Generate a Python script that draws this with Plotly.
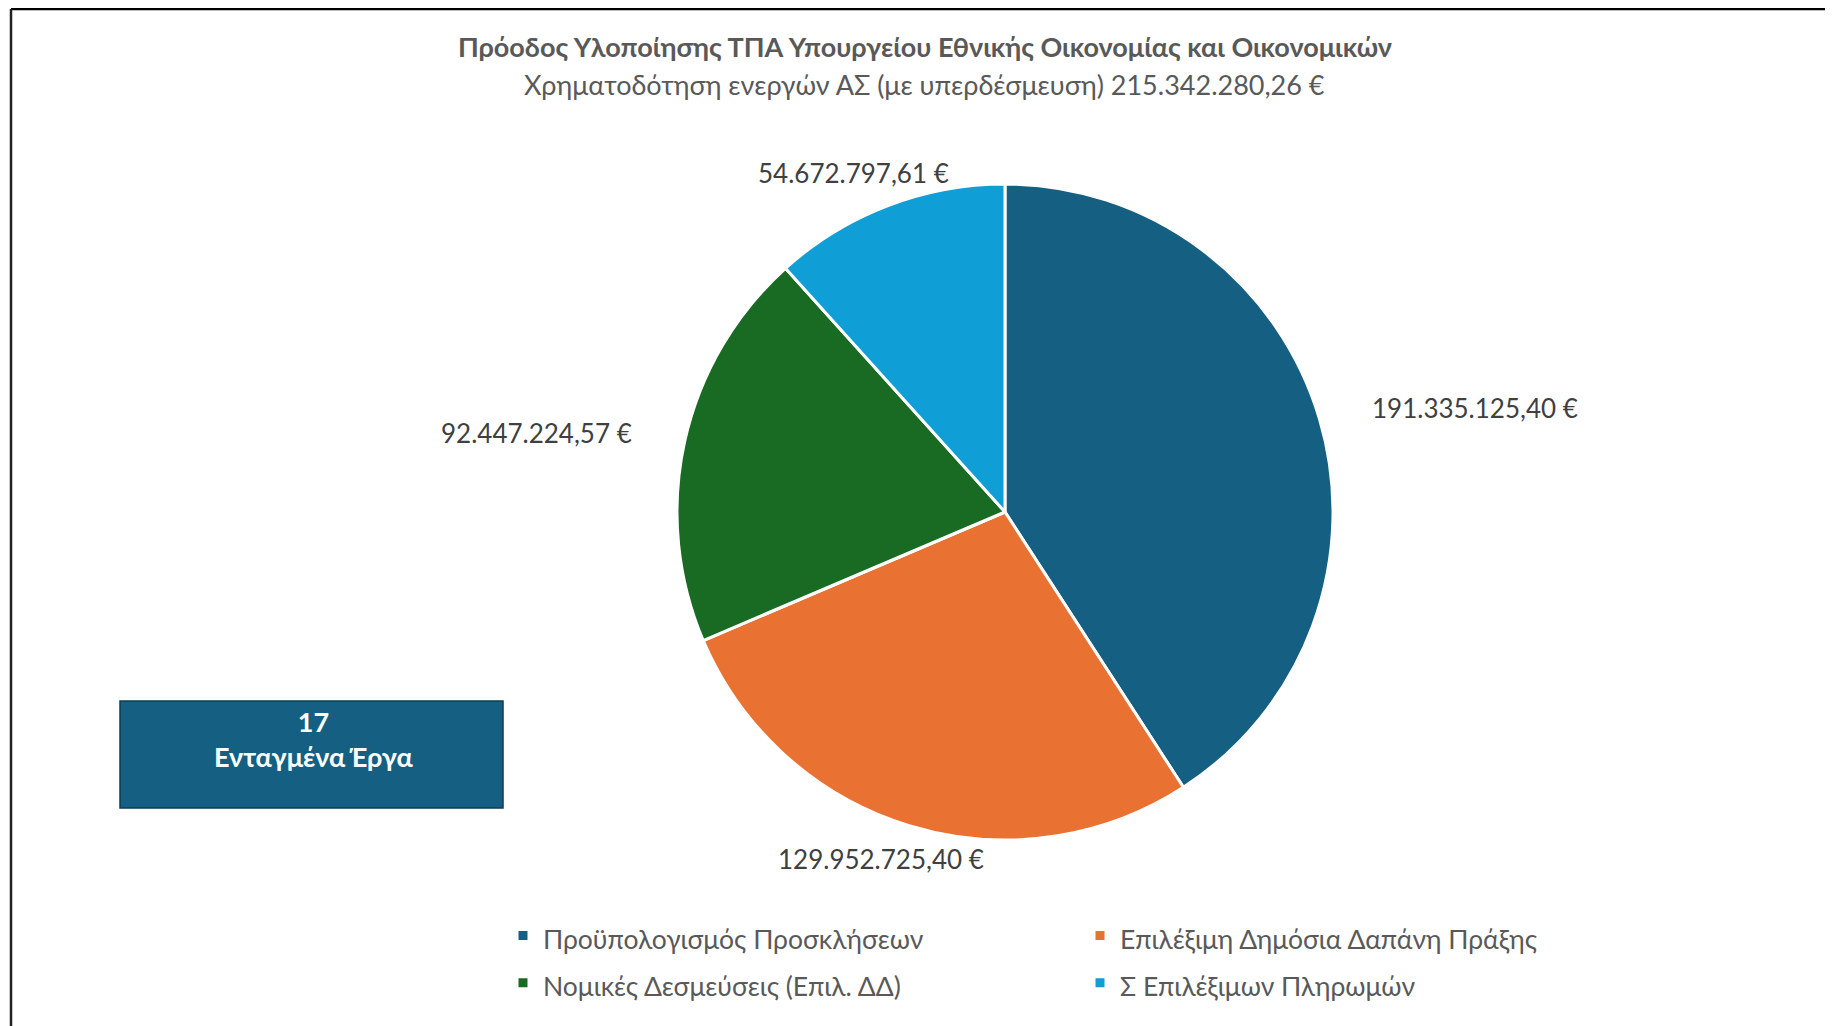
import math
import plotly.graph_objects as go

labels = ["Προϋπολογισμός Προσκλήσεων", "Επιλέξιμη Δημόσια Δαπάνη Πράξης",
          "Νομικές Δεσμεύσεις (Επιλ. ΔΔ)", "Σ Επιλέξιμων Πληρωμών"]
values = [191335125.40, 129952725.40, 92447224.57, 54672797.61]
colors = ["#156082", "#E97132", "#196B24", "#0F9ED5"]
title_main = "Πρόοδος Υλοποίησης ΤΠΑ Υπουργείου Εθνικής Οικονομίας και Οικονομικών"
title_sub = "Χρηματοδότηση ενεργών ΑΣ (με υπερδέσμευση) 215.342.280,26 €"
box_count = "17"
box_label = "Ενταγμένα Έργα"

FONT = "Lato, 'Open Sans', sans-serif"
W, H = 1833, 1026
MR = 400                 # right margin (keeps legend at two columns)
PW = W - MR              # plot-area width in px
CX, CY, R = 997, 504, 328  # pie centre / radius in px


def px(x):
    return x / PW


def py(y):
    return 1 - y / H


def fmt_eur(v):
    s = f"{v:,.2f}".replace(",", "X").replace(".", ",").replace("X", ".")
    return s + " €"


legend_labels = [f"<span style='font-size:26.5px'>{t}</span>" for t in labels]

fig = go.Figure(go.Pie(
    labels=legend_labels, values=values, sort=False, direction="clockwise", rotation=0,
    marker=dict(colors=colors, line=dict(color="white", width=3)),
    textinfo="none",
    domain=dict(x=[px(CX - R), px(CX + R)], y=[py(CY + R), py(CY - R)]),
    hoverinfo="value+percent",
))

fig.update_layout(
    width=W, height=H, separators=",.",
    margin=dict(l=0, r=MR, t=0, b=0, autoexpand=False),
    paper_bgcolor="white", plot_bgcolor="white",
    font=dict(family=FONT, color="#404040"),
    legend=dict(orientation="h", x=px(1072), xanchor="center", y=py(899), yanchor="top",
                entrywidth=532, entrywidthmode="pixels", traceorder="normal",
                font=dict(family=FONT, size=34, color="#595959"),
                itemwidth=30),
    showlegend=True,
)

# data labels placed outside each slice, at its mid-angle (derived from the values)
total = sum(values)
cum = 0.0
r_vis = R - 2
for v in values:
    mid = (cum + v / 2) / total * 2 * math.pi
    cum += v
    s, c = math.sin(mid), math.cos(mid)
    if abs(s) > 0.7:
        kx, ky = 1.167, 1.12
        xa = "left" if s > 0 else "right"
        ya = "middle"
    else:
        kx, ky = 1.3, 1.055
        xa = "center"
        ya = "bottom" if c > 0 else "top"
    lx = CX + r_vis * kx * s
    ly = CY - r_vis * ky * c
    fig.add_annotation(xref="paper", yref="paper", x=px(lx), y=py(ly), xanchor=xa, yanchor=ya,
                       showarrow=False, text=fmt_eur(v),
                       font=dict(family=FONT, size=26, color="#404040"))

# titles
fig.add_annotation(xref="paper", yref="paper", x=px(917), y=py(39), xanchor="center", yanchor="middle",
                   showarrow=False, text=f"<b>{title_main}</b>",
                   font=dict(family=FONT, size=27, color="#595959"))
fig.add_annotation(xref="paper", yref="paper", x=px(917), y=py(76), xanchor="center", yanchor="middle",
                   showarrow=False, text=title_sub,
                   font=dict(family=FONT, size=27, color="#595959"))

# frame lines
fig.add_shape(type="line", xref="paper", yref="paper", x0=px(3), x1=px(W), y0=py(1), y1=py(1),
              line=dict(color="black", width=2.5))
fig.add_shape(type="line", xref="paper", yref="paper", x0=px(3), x1=px(3), y0=0, y1=py(1),
              line=dict(color="#222222", width=2.5))
# info box
fig.add_shape(type="rect", xref="paper", yref="paper", x0=px(112), x1=px(495),
              y0=py(800), y1=py(693), fillcolor="#156082", line=dict(color="#0E3D54", width=1.5))
fig.add_annotation(xref="paper", yref="paper", x=px(306), y=py(731), xanchor="center", yanchor="middle",
                   showarrow=False, text=f"<b>{box_count}<br>{box_label}</b>", align="center",
                   font=dict(family=FONT, size=27, color="white"))

fig.write_html("out.html")
